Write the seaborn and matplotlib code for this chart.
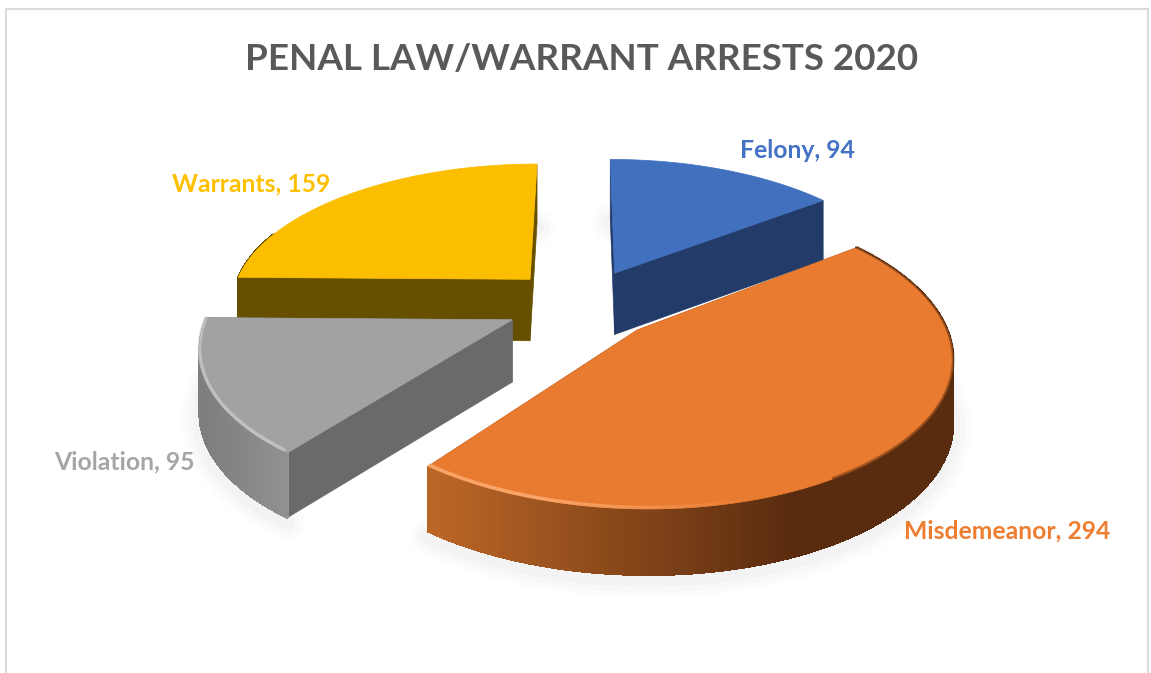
import numpy as np
import matplotlib
matplotlib.use("Agg")
import matplotlib.pyplot as plt
from matplotlib.colors import to_rgb
from matplotlib.lines import Line2D
from matplotlib.patches import Polygon
import seaborn as sns

categories = ["Felony", "Misdemeanor", "Violation", "Warrants"]
values = [94, 294, 95, 159]
title_text = "PENAL LAW/WARRANT ARRESTS 2020"

sns.set_theme(style="white")
plt.rcParams['font.family'] = ['Lato', 'DejaVu Sans']

top_colors = sns.color_palette(["#4170BF", "#E97B30", "#A2A2A2", "#FCBE00"])
cut_colors = ["#223B69", "#7A3F15", "#6A6A6A", "#674F00"]
side_left = ["#223B69", "#BA6526", "#7E7E7E", "#674F00"]
side_right = ["#223B69", "#5A2C0F", "#949494", "#674F00"]
label_colors = ["#4472C4", "#ED7D31", "#A5A5A5", "#FFC000"]

# projection of the tilted pie onto the picture, in pixels
CX, CY = 582, 304
A, B, H, K, KZ = 301, 141, 62, 0.16, 0.05
EXPLODE = 0.253


def project(x, y, z=0.0):
    w = 1 + K * y
    return CX + A * x / w, CY - B * y / w - H * z / (1 + KZ * y)


fig = plt.figure(figsize=(11.51, 6.73), dpi=100)
ax = fig.add_axes([0, 0, 1, 1])
ax.set_xlim(0, 1151)
ax.set_ylim(673, 0)
ax.axis("off")

# chart frame
ax.add_line(Line2D([6.5, 6.5, 1148, 1148], [673, 8.5, 8.5, 673], color="#DADADA", lw=1.5))

edges = np.radians(np.concatenate([[0], np.cumsum(values)]) / np.sum(values) * 360)


def wedge_points(i):
    t0, t1 = edges[i], edges[i + 1]
    mid = (t0 + t1) / 2
    ox, oy = EXPLODE * np.sin(mid), EXPLODE * np.cos(mid)
    th = np.linspace(t0, t1, 260)
    return ox, oy, ox + np.sin(th), oy + np.cos(th)


# soft shadows under the slices
for i in range(4):
    ox, oy, xs, ys = wedge_points(i)
    px, py = project(xs, ys, -1)
    for lw, al in [(26, 0.025), (18, 0.03), (10, 0.04)]:
        ax.plot(px, py + 5, color="#808080", lw=lw, alpha=al, solid_capstyle="round", zorder=1)

for n, i in enumerate([0, 3, 2, 1]):
    z0 = 2 + n
    ox, oy, xs, ys = wedge_points(i)
    tx, ty = project(xs, ys)
    bx, by = project(xs, ys, -1)
    vx, vy = project(ox, oy)
    wx, wy = project(ox, oy, -1)
    # flat cut faces
    for j in [0, -1]:
        ax.add_patch(Polygon([(vx, vy), (tx[j], ty[j]), (bx[j], by[j]), (wx, wy)],
                             fc=cut_colors[i], ec=cut_colors[i], lw=0.5, zorder=z0))
    # curved outer face, shaded by screen position
    left, right = np.array(to_rgb(side_left[i])), np.array(to_rgb(side_right[i]))
    span = [440, 790] if i == 1 else [205, 300]
    for k in range(len(xs) - 1):
        if ys[k] > oy + 0.35 and i != 1:
            continue
        s = np.clip((tx[k] - span[0]) / (span[1] - span[0]), 0, 1)
        c = left + (right - left) * s
        ax.add_patch(Polygon([(tx[k], ty[k]), (tx[k + 1], ty[k + 1]), (bx[k + 1], by[k + 1]), (bx[k], by[k])],
                             fc=c, ec=c, lw=1.0, antialiased=False, zorder=z0 + 0.1))
        ax.plot(bx[k:k + 2], by[k:k + 2], color=c, lw=1.0, zorder=z0 + 0.1)
    # top face
    ax.add_patch(Polygon(np.column_stack([np.r_[vx, tx], np.r_[vy, ty]]),
                         fc=top_colors[i], ec=top_colors[i], lw=0.5, zorder=z0 + 0.2))
    # rim highlight and dark edge on the front slices
    if i == 1:
        for k in range(len(tx) - 1):
            if tx[k] < 760:
                fade = min(1.0, (760 - tx[k]) / 220)
                ax.plot(tx[k:k + 2], ty[k:k + 2] - 1.5, color="#FFB27A", lw=2.5, alpha=0.8 * fade,
                        solid_capstyle="butt", zorder=z0 + 0.3)
        m = (tx > 830) & (ty < 520)
        ax.plot(tx[m], ty[m] - 0.5, color="#5A2C0F", lw=2, alpha=0.55, zorder=z0 + 0.3)
    if i == 2:
        ax.plot(tx[4:-4], ty[4:-4] - 1.5, color="#CDCDCD", lw=2.5, alpha=0.7, zorder=z0 + 0.3)

ax.text(582, 60, title_text, ha="center", va="center", fontsize=26.5, fontweight="bold", color="#595959")

label_pos = [(797, 150), (1007, 531), (124, 462), (251, 184)]
for name, val, col, (lx, ly) in zip(categories, values, label_colors, label_pos):
    ax.text(lx, ly, f"{name}, {val}", ha="center", va="center", fontsize=17.8, fontweight="bold", color=col)

fig.savefig("out.png", dpi=100, facecolor="white")
